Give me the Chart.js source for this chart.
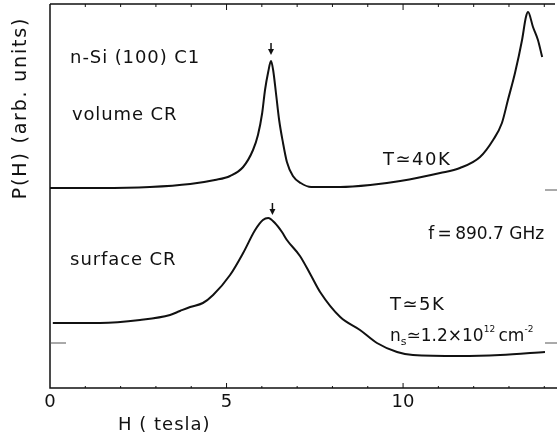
<!DOCTYPE html>
<html>
<head>
<meta charset="utf-8">
<script src="https://cdn.jsdelivr.net/npm/chart.js@4"></script>
<style>
  html, body { margin: 0; padding: 0; background: #fff; }
  #wrap { width: 557px; height: 437px; position: relative; }
</style>
</head>
<body>
<div id="wrap"><canvas id="cr-chart"></canvas></div>
<script>
// Magnetic field H (tesla) and signal P(H) (arb. units)
const volumeH = [0, 1.42, 2.83, 3.97, 4.67, 5.10, 5.47, 5.75, 5.89, 6.01, 6.09, 6.18, 6.26, 6.32, 6.40, 6.49, 6.60, 6.71, 6.88, 7.10, 7.40, 8.22, 9.07, 9.92, 11.05, 11.61, 12.18, 12.55, 12.80, 12.97, 13.17, 13.37, 13.48, 13.54, 13.68, 13.82, 13.94];
const volumeP = [200, 200, 201, 204, 208, 212, 221, 238, 253, 275, 298, 316, 327, 318, 295, 268, 245, 226, 212, 205, 201, 201, 203, 207, 215, 220, 231, 248, 265, 288, 315, 348, 371, 376, 361, 348, 331];

const surfaceH = [0.08, 1.42, 2.55, 3.40, 3.68, 3.97, 4.33, 4.62, 5.10, 5.47, 5.81, 6.03, 6.18, 6.37, 6.57, 6.71, 7.08, 7.37, 7.65, 8.22, 8.78, 9.26, 9.83, 10.28, 11.61, 12.75, 14.02];
const surfaceP = [65, 65, 68, 73, 77, 81, 85, 93, 113, 135, 158, 168, 170, 165, 156, 148, 132, 114, 96, 71, 58, 45, 36, 33, 32, 33, 36];

// resonance markers (arrows) and zero levels
const arrowH = [6.26, 6.3];
const arrowP = [345, 185];
const zeroLevels = [198, 45];

const xTicks = [0, 5, 10];

function toPoints(xs, ys) {
  return xs.map((x, i) => ({ x: x, y: ys[i] }));
}

const FONT = '"DejaVu Sans", sans-serif';
const INK = '#111';

// text notes: [text, H, P, size, spacing]
const notes = [
  ['n-Si (100) C1', 0.57, 330, 18, 0.9],
  ['volume CR', 0.62, 273, 18, 0.9],
  ['T\u224340K', 9.43, 228, 18, 1.5],
  ['surface CR', 0.57, 128, 18, 0.9],
  ['f\u2009=\u2009890.7 GHz', 10.71, 153, 17, 0],
  ['T\u22435K', 9.63, 83, 18, 1.5]
];

const framePlugin = {
  id: 'frame',
  afterDatasetsDraw(chart) {
    const ctx = chart.ctx;
    const a = chart.chartArea;
    const xs = chart.scales.x;
    const ys = chart.scales.y;
    ctx.save();
    ctx.strokeStyle = INK;
    ctx.fillStyle = INK;
    ctx.lineWidth = 1.5;

    // left axis, bottom axis, top border
    ctx.beginPath();
    ctx.moveTo(a.left, a.top);
    ctx.lineTo(a.left, a.bottom);
    ctx.lineTo(a.right, a.bottom);
    ctx.moveTo(a.left, a.top);
    ctx.lineTo(a.right - 2, a.top);
    ctx.stroke();

    // inward ticks every tesla
    ctx.lineWidth = 1;
    for (let h = 1; h <= 14; h++) {
      const px = xs.getPixelForValue(h);
      const major = h % 5 === 0;
      ctx.beginPath();
      ctx.moveTo(px, a.bottom);
      ctx.lineTo(px, a.bottom - (major ? 5 : 2));
      ctx.moveTo(px, a.top);
      ctx.lineTo(px, a.top + (major ? 6 : 3));
      ctx.stroke();
    }

    // zero level marks
    ctx.strokeStyle = '#555';
    zeroLevels.forEach((v, i) => {
      const py = ys.getPixelForValue(v);
      ctx.beginPath();
      ctx.moveTo(a.right - 12, py);
      ctx.lineTo(a.right, py);
      ctx.stroke();
      if (i === 1) {
        ctx.beginPath();
        ctx.moveTo(a.left, py);
        ctx.lineTo(a.left + 16, py);
        ctx.stroke();
      }
    });

    // arrows
    ctx.strokeStyle = INK;
    ctx.lineWidth = 1.5;
    arrowH.forEach((h, i) => {
      const px = xs.getPixelForValue(h);
      const py = ys.getPixelForValue(arrowP[i]);
      ctx.beginPath();
      ctx.moveTo(px, py);
      ctx.lineTo(px, py + 8);
      ctx.stroke();
      ctx.beginPath();
      ctx.moveTo(px - 3, py + 6);
      ctx.lineTo(px + 3, py + 6);
      ctx.lineTo(px, py + 12);
      ctx.closePath();
      ctx.fill();
    });

    // tick labels
    ctx.font = '18px ' + FONT;
    ctx.textAlign = 'center';
    ctx.textBaseline = 'middle';
    xTicks.forEach(t => {
      ctx.fillText(String(t), xs.getPixelForValue(t), a.bottom + 14);
    });

    // axis titles
    ctx.font = '18px ' + FONT;
    ctx.letterSpacing = '1px';
    ctx.textAlign = 'left';
    ctx.fillText('H ( tesla)', 118, a.bottom + 37);
    ctx.save();
    ctx.translate(21, 108);
    ctx.rotate(-Math.PI / 2);
    ctx.font = '19px ' + FONT;
    ctx.letterSpacing = '1.8px';
    ctx.textAlign = 'center';
    ctx.fillText('P(H) (arb. units)', 0, 0);
    ctx.restore();

    // notes
    ctx.textAlign = 'left';
    notes.forEach(n => {
      ctx.font = n[3] + 'px ' + FONT;
      ctx.letterSpacing = n[4] + 'px';
      ctx.fillText(n[0], xs.getPixelForValue(n[1]), ys.getPixelForValue(n[2]));
    });
    ctx.letterSpacing = '0px';

    // n_s ≃ 1.2×10^12 cm^-2
    let px = xs.getPixelForValue(9.63);
    const py = ys.getPixelForValue(51);
    const parts = [
      ['n', 17, 0], ['s', 11, 5], ['\u22431.2\u00d710', 17, 0], ['12', 9, -7],
      ['\u2009cm', 17, 0], ['-2', 9, -7]
    ];
    parts.forEach(p => {
      ctx.font = p[1] + 'px ' + FONT;
      ctx.fillText(p[0], px, py + p[2]);
      px += ctx.measureText(p[0]).width;
    });

    ctx.restore();
  }
};

new Chart(document.getElementById('cr-chart'), {
  type: 'line',
  data: {
    datasets: [
      {
        label: 'volume CR',
        data: toPoints(volumeH, volumeP),
        borderColor: INK,
        borderWidth: 2,
        pointRadius: 0,
        tension: 0.35,
        cubicInterpolationMode: 'monotone'
      },
      {
        label: 'surface CR',
        data: toPoints(surfaceH, surfaceP),
        borderColor: INK,
        borderWidth: 2,
        pointRadius: 0,
        tension: 0.35,
        cubicInterpolationMode: 'monotone'
      }
    ]
  },
  options: {
    responsive: true,
    maintainAspectRatio: false,
    animation: false,
    layout: { padding: { left: 50, top: 4, right: 0, bottom: 49 } },
    plugins: { legend: { display: false }, tooltip: { enabled: false } },
    scales: {
      x: { type: 'linear', min: 0, max: 14.36, display: false },
      y: { min: 0, max: 384, display: false }
    }
  },
  plugins: [framePlugin]
});
</script>
</body>
</html>
